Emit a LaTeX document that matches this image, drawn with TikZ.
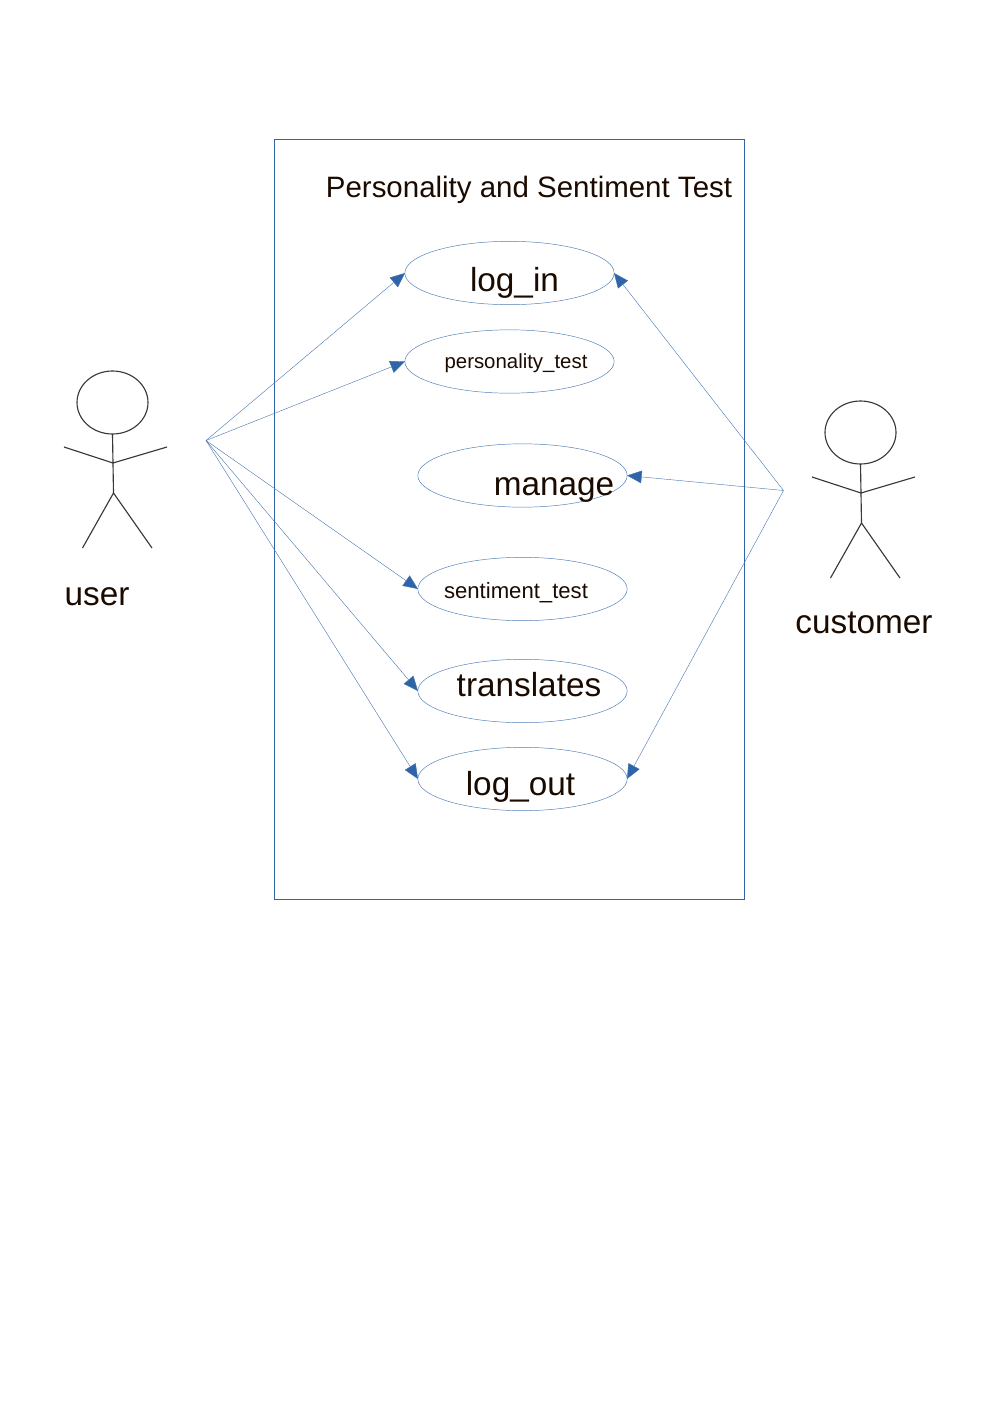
\documentclass[tikz,border=0pt]{standalone}
\usepackage{fontspec}
\setmainfont{Liberation Sans}
\usetikzlibrary{shapes.geometric,arrows.meta}
\definecolor{bl}{HTML}{2F65A8}
\definecolor{tx}{HTML}{1A0A00}
\tikzset{
 x=0.75pt,y=-0.75pt,
 uc/.style={draw=bl!85,line width=0.35pt,ellipse,minimum width=157pt,minimum height=47.5pt,inner sep=0pt},
 con/.style={draw=bl!90,line width=0.3pt,-{Triangle[length=11pt,width=9.5pt,fill=bl]}},
 lab/.style={inner sep=0pt,text=tx,anchor=base},
 fig/.style={draw=black!78,line width=0.85pt},
}
\begin{document}
\begin{tikzpicture}
\useasboundingbox (0,0) rectangle (992,1403);
\node[draw=bl,line width=0.45pt,minimum width=352.5pt,minimum height=570pt,inner sep=0pt] (sys) at (509.5,519.5) {};
\node[lab,font=\fontsize{22.1}{24}\selectfont] (title) at (529,197) {Personality and Sentiment Test};
\node[uc] (login) at (509.5,273) {};
\node[uc] (pers) at (509.5,361.5) {};
\node[uc] (man) at (522.5,475.5) {};
\node[uc] (sent) at (522.5,589) {};
\node[uc] (trans) at (522.5,691) {};
\node[uc] (logout) at (522.5,779) {};
\node[lab,font=\fontsize{25}{28}\selectfont] (t1) at (514.5,291.5) {log\_in};
\node[lab,font=\fontsize{15.3}{18}\selectfont] (t2) at (516,368.5) {personality\_test};
\node[lab,font=\fontsize{25}{28}\selectfont] (t3) at (554,495.5) {manage};
\node[lab,font=\fontsize{16.6}{18}\selectfont] (t4) at (516,598) {sentiment\_test};
\node[lab,font=\fontsize{25}{28}\selectfont] (t5) at (529,696.5) {translates};
\node[lab,font=\fontsize{25}{28}\selectfont] (t6) at (520.5,795.5) {log\_out};
\coordinate (u) at (206,440.5);
\coordinate (c) at (783.5,490.5);
\draw[con] (u) -- (405,273);
\draw[con] (u) -- (405,361.5);
\draw[con] (u) -- (418,589);
\draw[con] (u) -- (418,691);
\draw[con] (u) -- (418,779);
\draw[con] (c) -- (614,273);
\draw[con] (c) -- (627,475.5);
\draw[con] (c) -- (627,779);
\draw[fig] (112.5,402.5) ellipse [x radius=35.5,y radius=31.5];
\draw[fig] (112.5,434) -- (113.5,493) (64,447) -- (113,463) -- (167,447) (82.5,548) -- (113.5,493) -- (152,548);
\draw[fig] (860.5,432.5) ellipse [x radius=35.5,y radius=31.5];
\draw[fig] (860.5,464) -- (861.5,523) (812,477) -- (861,493) -- (915,477) (830.5,578) -- (861.5,523) -- (900,578);
\node[lab,font=\fontsize{25}{28}\selectfont] (uu) at (97,605.5) {user};
\node[lab,font=\fontsize{25}{28}\selectfont] (cc) at (864,633.5) {customer};
\end{tikzpicture}
\end{document}
